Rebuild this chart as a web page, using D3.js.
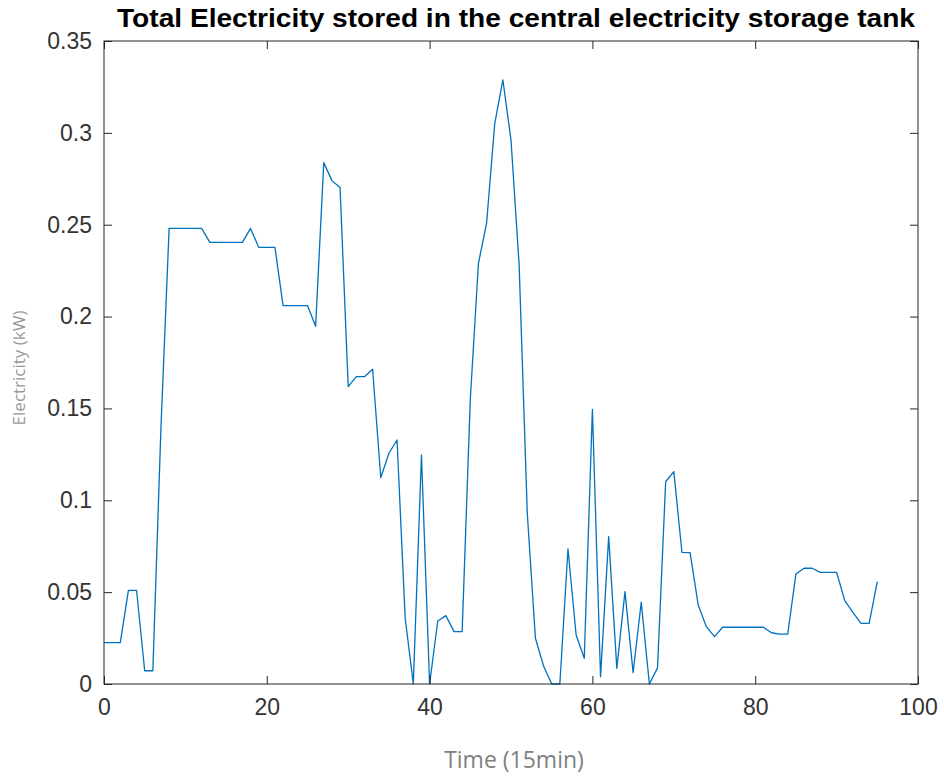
<!DOCTYPE html>
<html>
<head>
<meta charset="utf-8">
<script src="https://cdn.jsdelivr.net/npm/d3@7"></script>
<style>
  body { margin: 0; background: #fff; }
  svg { display: block; }
</style>
</head>
<body>
<div class="chart"></div>
<script>
// stored electricity per 15-minute step, t = 0..95
var electricity = [
  0.0225, 0.0225, 0.0225, 0.051, 0.051, 0.0072, 0.0072, 0.14, 0.248, 0.248,
  0.248, 0.248, 0.248, 0.2404, 0.2404, 0.2404, 0.2404, 0.2404, 0.248, 0.2377,
  0.2377, 0.2377, 0.206, 0.206, 0.206, 0.206, 0.1947, 0.2838, 0.274, 0.2702,
  0.1619, 0.1673, 0.1673, 0.1713, 0.1123, 0.1256, 0.1328, 0.0358, 0, 0.1247,
  0, 0.0343, 0.0372, 0.0285, 0.0285, 0.155, 0.229, 0.2508, 0.305, 0.3288,
  0.2961, 0.228, 0.0929, 0.0249, 0.0098, 0, 0, 0.0735, 0.0267, 0.014,
  0.1495, 0.004, 0.0802, 0.0085, 0.0503, 0.0062, 0.0445, 0, 0.0088, 0.1101,
  0.1156, 0.0717, 0.0715, 0.043, 0.0312, 0.0258, 0.0309, 0.0309, 0.0309, 0.0309,
  0.0309, 0.0309, 0.0279, 0.0272, 0.0272, 0.0599, 0.063, 0.063, 0.0608, 0.0608,
  0.0608, 0.0454, 0.039, 0.033, 0.033, 0.0557
];
var time = d3.range(electricity.length);
var xTicks = [0, 20, 40, 60, 80, 100];
var yTicks = [0, 0.05, 0.1, 0.15, 0.2, 0.25, 0.3, 0.35];

var width = 944,
    height = 778,
    margin = {top: 41, right: 26, bottom: 94, left: 104},
    plotW = width - margin.left - margin.right,
    plotH = height - margin.top - margin.bottom,
    tickLen = 8,
    axisColor = "#262626";

var svg = d3.select("div.chart").append("svg")
    .attr("width", width)
    .attr("height", height);

var x = d3.scaleLinear().domain([0, 100]).range([0, plotW]);
var y = d3.scaleLinear().domain([0, 0.35]).range([plotH, 0]);

var g = svg.append("g")
    .attr("transform", "translate(" + margin.left + "," + margin.top + ")");

// the line
var line = d3.line()
    .x(function(d, i) { return x(time[i]); })
    .y(function(d) { return y(d); });

g.append("path")
    .datum(electricity)
    .attr("fill", "none")
    .attr("stroke", "#0072BD")
    .attr("stroke-width", 1.3)
    .attr("stroke-linejoin", "round")
    .attr("d", line);

// box + inward ticks, matlab style
function styleAxis(sel) {
  sel.select(".domain").remove();
  sel.selectAll(".tick line").attr("stroke", axisColor);
  sel.selectAll(".tick text")
    .attr("fill", "#333")
    .style("font-family", "'Liberation Sans', Arial, sans-serif")
    .style("font-size", "23px");
}

g.append("g")
    .attr("transform", "translate(0," + plotH + ")")
    .call(d3.axisBottom(x).tickValues(xTicks).tickSize(-tickLen).tickPadding(15).tickFormat(d3.format("d")))
    .call(styleAxis);

g.append("g")
    .call(d3.axisTop(x).tickValues(xTicks).tickSize(-tickLen).tickFormat(""))
    .call(styleAxis);

g.append("g")
    .call(d3.axisLeft(y).tickValues(yTicks).tickSize(-tickLen).tickPadding(12).tickFormat(function(d) { return d3.format("")(+d.toFixed(2)); }))
    .call(styleAxis);

g.append("g")
    .attr("transform", "translate(" + plotW + ",0)")
    .call(d3.axisRight(y).tickValues(yTicks).tickSize(-tickLen).tickFormat(""))
    .call(styleAxis);

g.append("rect")
    .attr("width", plotW)
    .attr("height", plotH)
    .attr("fill", "none")
    .attr("stroke", axisColor)
    .attr("stroke-width", 1);

// title
svg.append("text")
    .attr("x", 516)
    .attr("y", 27)
    .attr("text-anchor", "middle")
    .attr("textLength", 798)
    .attr("lengthAdjust", "spacingAndGlyphs")
    .style("font-family", "'Liberation Sans', Arial, sans-serif")
    .style("font-weight", "bold")
    .style("font-size", "26px")
    .attr("fill", "#000")
    .text("Total Electricity stored in the central electricity storage tank");

// axis labels
svg.append("text")
    .attr("x", 514)
    .attr("y", 768)
    .attr("text-anchor", "middle")
    .style("font-family", "'Open Sans', sans-serif")
    .style("font-size", "23px")
    .attr("fill", "#808080")
    .text("Time (15min)");

svg.append("text")
    .attr("transform", "translate(25,368) rotate(-90)")
    .attr("text-anchor", "middle")
    .style("font-family", "'Open Sans', sans-serif")
    .style("font-size", "17px")
    .attr("fill", "#999")
    .text("Electricity (kW)");
</script>
</body>
</html>
